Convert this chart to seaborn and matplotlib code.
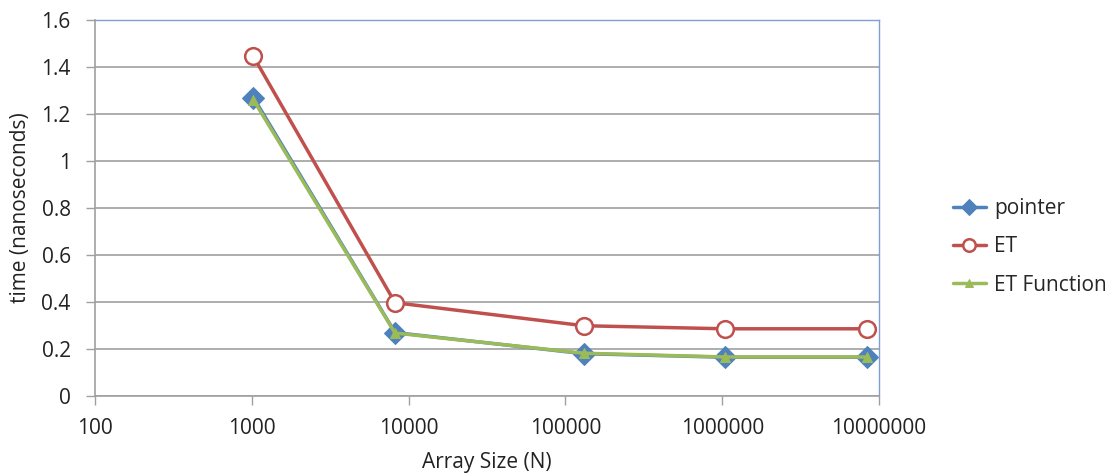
import numpy as np
import pandas as pd
import seaborn as sns
from matplotlib import pyplot as plt
from matplotlib.ticker import FuncFormatter, FixedLocator, NullLocator

# array sizes (powers of two)
sizes = [1024, 8192, 131072, 1048576, 8388608]
pointer = [1.27, 0.27, 0.18, 0.165, 0.165]
et = [1.445, 0.397, 0.299, 0.286, 0.286]
et_function = [1.26, 0.268, 0.182, 0.166, 0.166]
x_ticks = [100, 1000, 10000, 100000, 1000000, 10000000]
y_ticks = [0, 0.2, 0.4, 0.6, 0.8, 1.0, 1.2, 1.4, 1.6]

sns.set_style('white')
plt.rcParams['font.family'] = ['Open Sans', 'DejaVu Sans']

fig = plt.figure(figsize=(11.2, 4.74), dpi=100)
ax = fig.add_axes([95/1120, 1-396/474, (879-95)/1120, (396-20)/474])

sns.lineplot(x=sizes, y=pointer, ax=ax, color='#4F81BD', linewidth=2.5,
             marker='D', markersize=11, markeredgecolor='#4F81BD', label='pointer')
sns.lineplot(x=sizes, y=et, ax=ax, color='#C0504D', linewidth=2.5,
             marker='o', markersize=12, markerfacecolor='white',
             markeredgecolor='#C0504D', markeredgewidth=1.8, label='ET')
sns.lineplot(x=sizes, y=et_function, ax=ax, color='#9BBB59', linewidth=2.5,
             marker='^', markersize=7, markeredgecolor='#9BBB59', label='ET Function')

ax.set_xscale('log')
ax.set_xlim(100, 10000000)
ax.set_ylim(0, 1.6)
ax.xaxis.set_major_locator(FixedLocator(x_ticks))
ax.xaxis.set_minor_locator(NullLocator())
ax.xaxis.set_major_formatter(FuncFormatter(lambda v, p: f'{int(round(v))}'))
ax.set_yticks(y_ticks)
ax.yaxis.set_major_formatter(FuncFormatter(lambda v, p: f'{v:g}'))

ax.grid(axis='y', color='#A0A0A0', linewidth=1.2)
ax.grid(axis='x', visible=False)
ax.set_axisbelow(True)

for s in ['left', 'bottom']:
    ax.spines[s].set_color('#A0A0A0')
    ax.spines[s].set_linewidth(1.2)
for s in ['top', 'right']:
    ax.spines[s].set_color('#7F9FCF')
    ax.spines[s].set_linewidth(1.0)

ax.tick_params(axis='both', direction='out', length=6.5, width=1.0, color='#A0A0A0',
               labelsize=15, labelcolor='#222222', left=True, bottom=True)
ax.tick_params(axis='y', pad=11)
ax.tick_params(axis='x', pad=9)

ax.set_xlabel('Array Size (N)', fontsize=15, color='#222222')
ax.set_ylabel('time (nanoseconds)', fontsize=15, color='#222222')
ax.xaxis.set_label_coords(0.5, -0.15)
ax.yaxis.set_label_coords(-0.082, 0.5)

leg = ax.legend(loc='center left', bbox_to_anchor=(0.834, 1-247/474),
                bbox_transform=fig.transFigure, frameon=False, markerscale=0.75,
                fontsize=15, handlelength=1.6, labelspacing=0.82, handletextpad=0.4)

fig.savefig('out.png', dpi=100)
